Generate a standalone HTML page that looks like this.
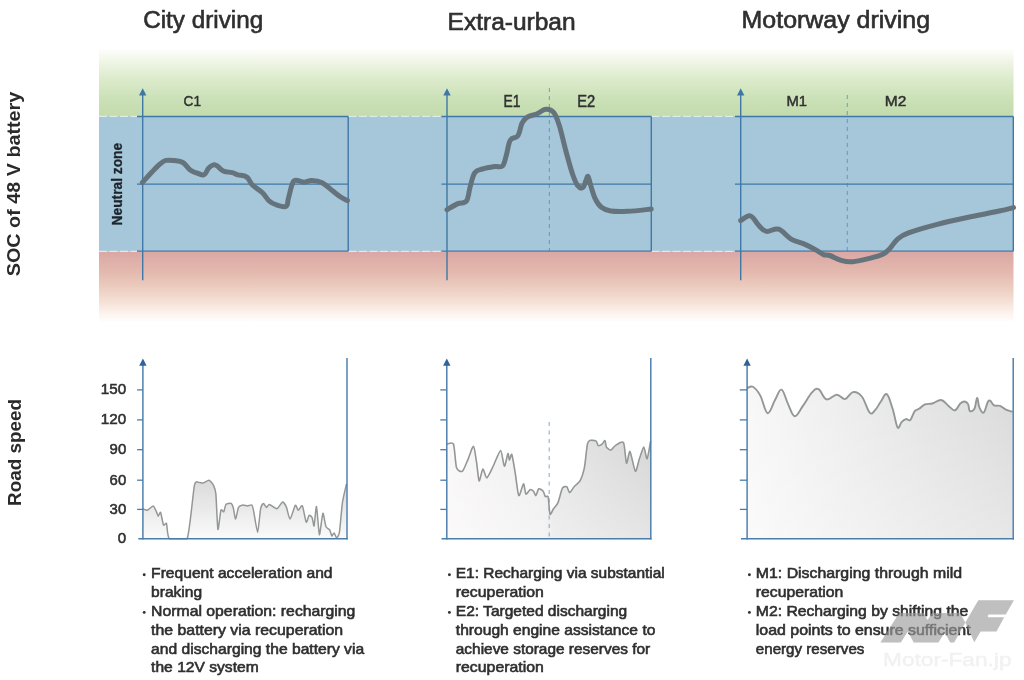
<!DOCTYPE html>
<html><head><meta charset="utf-8"><title>48V SOC driving profiles</title>
<style>
html,body{margin:0;padding:0;background:#fff;}
body{width:1024px;height:680px;overflow:hidden;position:relative;font-family:"Liberation Sans",sans-serif;}
svg text{font-family:"Liberation Sans",sans-serif;}
</style></head><body>
<svg width="1024" height="680" viewBox="0 0 1024 680" style="position:absolute;left:0;top:0;filter:blur(0.7px)">
<defs>
<linearGradient id="gG" x1="0" y1="0" x2="0" y2="1">
<stop offset="0" stop-color="#ffffff"/><stop offset="0.10" stop-color="#f7faf1"/><stop offset="0.25" stop-color="#ebf3e0"/><stop offset="0.45" stop-color="#dcebcb"/><stop offset="0.75" stop-color="#cae0b7"/><stop offset="1" stop-color="#c3dbad"/>
</linearGradient>
<linearGradient id="gR" x1="0" y1="0" x2="0" y2="1">
<stop offset="0" stop-color="#dba7a4"/><stop offset="0.3" stop-color="#e4baaf"/><stop offset="0.5" stop-color="#ecccbf"/><stop offset="0.7" stop-color="#f5e0d5"/><stop offset="0.88" stop-color="#fdf4ef"/><stop offset="1" stop-color="#ffffff"/>
</linearGradient>
<linearGradient id="gH" x1="0" y1="0" x2="1" y2="0">
<stop offset="0" stop-color="#f8f8f8"/><stop offset="1" stop-color="#dadada"/>
</linearGradient>
<linearGradient id="gE" x1="0" y1="0" x2="1" y2="0">
<stop offset="0" stop-color="#f9f7f7"/><stop offset="0.48" stop-color="#efeeee"/><stop offset="0.52" stop-color="#e6e6e6"/><stop offset="1" stop-color="#d7d7d7"/>
</linearGradient>
<linearGradient id="gC" gradientUnits="userSpaceOnUse" x1="0" y1="478" x2="0" y2="540">
<stop offset="0" stop-color="#d9d9d9"/><stop offset="1" stop-color="#fbfbfb"/>
</linearGradient>
<linearGradient id="gV" x1="0" y1="0" x2="0" y2="1">
<stop offset="0" stop-color="#ffffff" stop-opacity="0"/><stop offset="1" stop-color="#ffffff" stop-opacity="0.35"/>
</linearGradient>
</defs>
<rect x="99" y="48" width="914.5" height="69" fill="url(#gG)"/>
<rect x="99" y="116.4" width="914.5" height="135.2" fill="#a6c6da"/>
<rect x="99" y="251.6" width="914.5" height="71" fill="url(#gR)"/>
<line x1="99.0" y1="116.4" x2="137.0" y2="116.4" stroke="#dcece6" stroke-width="1.2" stroke-dasharray="8 2.5"/>
<line x1="99.0" y1="251.4" x2="137.0" y2="251.4" stroke="#dcece6" stroke-width="1.2" stroke-dasharray="8 2.5"/>
<line x1="348.5" y1="116.4" x2="441.5" y2="116.4" stroke="#dcece6" stroke-width="1.2" stroke-dasharray="8 2.5"/>
<line x1="348.5" y1="251.4" x2="441.5" y2="251.4" stroke="#dcece6" stroke-width="1.2" stroke-dasharray="8 2.5"/>
<line x1="651.5" y1="116.4" x2="735.0" y2="116.4" stroke="#dcece6" stroke-width="1.2" stroke-dasharray="8 2.5"/>
<line x1="651.5" y1="251.4" x2="735.0" y2="251.4" stroke="#dcece6" stroke-width="1.2" stroke-dasharray="8 2.5"/>
<line x1="142.7" y1="94" x2="142.7" y2="280.3" stroke="#3f78a6" stroke-width="1.4"/>
<path d="M142.7 88.2 L139.0 95.6 L146.4 95.6 Z" fill="#3f78a6"/>
<line x1="137.0" y1="116.5" x2="348.2" y2="116.5" stroke="#3f78a6" stroke-width="1.3"/>
<line x1="137.0" y1="184.2" x2="348.2" y2="184.2" stroke="#3f78a6" stroke-width="1.3"/>
<line x1="137.0" y1="251.2" x2="348.2" y2="251.2" stroke="#3f78a6" stroke-width="1.3"/>
<line x1="348.2" y1="116.5" x2="348.2" y2="251.2" stroke="#3f78a6" stroke-width="1.4"/>
<line x1="447.0" y1="94" x2="447.0" y2="280.3" stroke="#3f78a6" stroke-width="1.4"/>
<path d="M447.0 88.2 L443.3 95.6 L450.7 95.6 Z" fill="#3f78a6"/>
<line x1="441.5" y1="116.5" x2="651.3" y2="116.5" stroke="#3f78a6" stroke-width="1.3"/>
<line x1="441.5" y1="184.2" x2="651.3" y2="184.2" stroke="#3f78a6" stroke-width="1.3"/>
<line x1="441.5" y1="251.2" x2="651.3" y2="251.2" stroke="#3f78a6" stroke-width="1.3"/>
<line x1="651.3" y1="116.5" x2="651.3" y2="251.2" stroke="#3f78a6" stroke-width="1.4"/>
<line x1="740.7" y1="94" x2="740.7" y2="280.3" stroke="#3f78a6" stroke-width="1.4"/>
<path d="M740.7 88.2 L737.0 95.6 L744.4 95.6 Z" fill="#3f78a6"/>
<line x1="735.0" y1="116.5" x2="1013.3" y2="116.5" stroke="#3f78a6" stroke-width="1.3"/>
<line x1="735.0" y1="184.2" x2="1013.3" y2="184.2" stroke="#3f78a6" stroke-width="1.3"/>
<line x1="735.0" y1="251.2" x2="1013.3" y2="251.2" stroke="#3f78a6" stroke-width="1.3"/>
<line x1="1013.3" y1="116.5" x2="1013.3" y2="251.2" stroke="#3f78a6" stroke-width="1.4"/>
<line x1="549.4" y1="88" x2="549.4" y2="251" stroke="#3f7fb0" stroke-opacity="0.6" stroke-width="1.1" stroke-dasharray="4 4"/>
<line x1="847.3" y1="95" x2="847.3" y2="251" stroke="#3f7fb0" stroke-opacity="0.6" stroke-width="1.1" stroke-dasharray="4 4"/>
<path d="M142.4 182.5 C144.2 180.6 148.8 175.4 152.0 172.0 C155.2 168.6 157.5 166.1 160.0 164.0 C162.5 161.9 163.3 161.0 165.9 160.4 C168.5 159.8 170.9 160.2 174.0 160.6 C177.1 161.0 179.8 160.7 182.8 162.5 C185.8 164.3 188.0 168.4 190.6 170.3 C193.2 172.2 194.5 172.2 197.0 173.0 C199.5 173.8 202.0 175.7 204.1 174.8 C206.2 173.9 207.0 169.9 208.6 168.1 C210.2 166.3 211.6 165.5 213.0 165.0 C214.4 164.5 215.2 164.8 216.5 165.4 C217.8 166.0 218.6 167.4 220.0 168.5 C221.4 169.6 222.1 170.6 224.3 171.4 C226.5 172.2 229.7 172.0 232.2 172.6 C234.7 173.2 235.1 174.0 237.8 174.8 C240.5 175.6 244.1 175.2 246.8 177.1 C249.5 179.0 249.5 182.0 252.4 184.9 C255.3 187.8 259.4 189.8 262.5 192.8 C265.6 195.8 266.6 198.8 269.3 201.1 C272.0 203.4 274.0 204.1 277.1 205.1 C280.2 206.1 284.0 207.5 286.1 206.3 C288.2 205.1 287.2 202.7 288.4 198.4 C289.6 194.1 291.2 186.0 292.8 182.7 C294.4 179.4 295.2 180.5 297.3 180.4 C299.4 180.3 301.4 182.2 304.1 182.2 C306.8 182.2 308.6 180.3 311.9 180.4 C315.2 180.5 318.4 180.8 322.1 182.7 C325.8 184.6 328.7 187.8 332.2 190.5 C335.7 193.2 338.3 195.4 341.1 197.3 C343.9 199.2 346.2 200.0 347.4 200.6" fill="none" stroke="#65737d" stroke-width="5" stroke-linecap="round" stroke-linejoin="round"/>
<path d="M447.0 209.7 C449.0 208.6 454.2 205.2 457.8 203.6 C461.4 202.0 464.1 204.2 466.4 201.1 C468.7 198.0 468.7 191.8 470.2 186.6 C471.7 181.4 472.5 175.9 474.8 172.7 C477.1 169.5 478.8 170.1 482.5 169.0 C486.2 167.9 491.2 167.1 494.9 166.5 C498.6 165.9 500.5 168.2 502.6 165.9 C504.7 163.6 505.2 158.8 506.6 154.1 C508.0 149.4 508.2 143.6 510.3 140.2 C512.4 136.8 515.9 138.7 518.0 135.6 C520.1 132.5 520.3 126.6 522.0 123.2 C523.7 119.8 524.6 118.8 527.3 117.1 C530.0 115.4 533.2 115.4 536.6 114.0 C540.0 112.6 542.7 109.6 545.8 109.3 C548.9 109.0 551.2 109.6 553.6 112.4 C556.0 115.2 556.8 117.7 559.1 124.8 C561.4 131.9 563.5 142.2 565.9 151.0 C568.3 159.8 570.0 166.4 572.1 172.7 C574.2 179.0 575.6 182.9 577.6 185.6 C579.6 188.3 581.4 188.5 582.9 187.5 C584.4 186.5 585.0 182.4 586.0 180.4 C587.0 178.4 587.3 175.6 588.1 176.4 C588.9 177.2 589.3 180.9 590.6 185.0 C591.9 189.1 593.3 194.8 595.3 198.9 C597.3 203.0 598.6 205.1 601.4 207.3 C604.2 209.5 605.9 210.3 610.7 211.0 C615.5 211.7 620.3 211.6 627.7 211.3 C635.1 211.0 646.9 209.5 651.2 209.1" fill="none" stroke="#65737d" stroke-width="5" stroke-linecap="round" stroke-linejoin="round"/>
<path d="M740.7 220.6 C742.5 219.7 747.0 215.1 750.3 215.9 C753.6 216.7 755.7 222.4 758.6 225.2 C761.5 228.0 762.6 230.7 766.3 231.4 C770.0 232.1 774.2 227.8 778.7 229.2 C783.2 230.6 786.3 236.3 791.1 239.1 C795.9 241.9 800.5 242.4 805.0 244.4 C809.5 246.4 812.4 248.0 815.8 249.9 C819.2 251.8 821.0 253.6 823.5 254.6 C826.0 255.6 826.3 254.4 829.7 255.5 C833.1 256.6 837.8 259.6 842.0 260.7 C846.2 261.8 848.0 262.1 852.8 261.7 C857.6 261.3 862.9 259.9 868.3 258.6 C873.7 257.3 878.2 256.5 882.2 254.6 C886.2 252.7 887.1 251.2 889.9 248.4 C892.7 245.6 894.2 241.9 897.6 239.1 C901.0 236.3 901.4 235.6 908.5 232.9 C915.6 230.2 925.5 227.4 936.3 224.6 C947.1 221.8 955.9 219.9 967.2 217.5 C978.5 215.1 989.5 213.1 998.0 211.3 C1006.5 209.5 1010.7 208.3 1013.5 207.6" fill="none" stroke="#65737d" stroke-width="5" stroke-linecap="round" stroke-linejoin="round"/>
<path d="M142.9 508.8 C143.3 508.9 146.4 510.6 147.4 510.3 C148.4 510.0 152.3 505.8 153.2 505.9 C154.1 506.0 155.7 510.2 156.2 511.2 C156.7 512.2 157.8 516.1 158.2 516.2 C158.6 516.3 160.1 511.5 160.6 512.4 C161.1 513.3 162.9 523.9 163.5 525.0 C164.1 526.1 165.9 522.1 166.5 523.5 C167.1 524.9 167.3 537.3 169.4 538.8 C171.5 538.8 184.6 538.8 187.1 538.8 C189.6 533.4 193.2 490.9 194.4 485.3 C195.6 479.7 197.9 482.6 198.8 482.4 C199.7 482.2 202.2 483.1 203.2 482.9 C204.2 482.7 208.1 480.1 209.1 480.3 C210.1 480.5 212.8 483.9 213.5 485.3 C214.2 486.7 215.5 489.7 215.9 494.1 C216.3 498.5 217.4 527.8 217.9 529.4 C218.4 531.0 220.3 512.1 220.9 510.3 C221.5 508.5 223.3 512.4 223.8 511.8 C224.3 511.2 225.2 505.2 225.9 504.4 C226.6 503.6 230.4 503.1 231.2 503.5 C232.0 503.9 233.1 507.2 233.5 508.8 C233.9 510.4 235.1 519.2 235.6 519.1 C236.1 519.0 237.8 508.8 238.5 507.4 C239.2 506.0 242.0 505.1 242.9 505.0 C243.8 504.9 246.5 505.9 247.4 505.9 C248.3 505.9 251.2 504.6 251.8 505.0 C252.4 505.4 252.9 507.6 253.5 510.3 C254.1 513.0 256.9 532.5 257.6 532.4 C258.3 532.2 260.0 511.7 260.6 508.8 C261.2 505.9 262.9 503.6 263.5 503.5 C264.1 503.4 265.9 507.3 266.5 507.4 C267.1 507.5 268.4 504.3 269.4 504.4 C270.4 504.5 275.5 509.0 276.8 508.8 C278.1 508.6 281.6 502.2 282.6 502.1 C283.6 502.0 285.8 505.7 286.5 507.4 C287.2 509.1 289.1 519.3 290.0 519.1 C290.9 518.9 294.5 506.2 295.3 505.3 C296.1 504.4 297.5 510.2 298.2 510.3 C298.9 510.4 301.6 504.7 302.4 505.9 C303.2 507.1 305.5 521.2 306.2 522.1 C306.9 523.0 308.5 515.8 309.1 515.3 C309.7 514.8 311.6 516.5 312.1 517.6 C312.6 518.7 313.7 527.0 314.1 525.9 C314.5 524.8 316.0 505.6 316.5 506.5 C317.0 507.4 318.8 534.0 319.4 534.7 C320.0 535.4 322.2 514.0 322.9 513.2 C323.5 512.4 325.2 524.8 325.9 526.5 C326.6 528.2 329.1 529.1 329.7 530.0 C330.3 530.9 331.4 535.6 331.8 535.9 C332.2 536.2 333.6 532.7 334.1 532.9 C334.6 533.1 336.0 537.6 336.5 537.6 C337.0 537.6 338.8 535.9 339.4 532.4 C340.0 528.9 341.7 507.8 342.4 502.9 C343.1 498.0 346.1 485.7 346.5 483.8 L346.5 538.8 L142.9 538.8 Z" fill="url(#gC)"/>
<path d="M142.9 508.8 C143.3 508.9 146.4 510.6 147.4 510.3 C148.4 510.0 152.3 505.8 153.2 505.9 C154.1 506.0 155.7 510.2 156.2 511.2 C156.7 512.2 157.8 516.1 158.2 516.2 C158.6 516.3 160.1 511.5 160.6 512.4 C161.1 513.3 162.9 523.9 163.5 525.0 C164.1 526.1 165.9 522.1 166.5 523.5 C167.1 524.9 167.3 537.3 169.4 538.8 C171.5 538.8 184.6 538.8 187.1 538.8 C189.6 533.4 193.2 490.9 194.4 485.3 C195.6 479.7 197.9 482.6 198.8 482.4 C199.7 482.2 202.2 483.1 203.2 482.9 C204.2 482.7 208.1 480.1 209.1 480.3 C210.1 480.5 212.8 483.9 213.5 485.3 C214.2 486.7 215.5 489.7 215.9 494.1 C216.3 498.5 217.4 527.8 217.9 529.4 C218.4 531.0 220.3 512.1 220.9 510.3 C221.5 508.5 223.3 512.4 223.8 511.8 C224.3 511.2 225.2 505.2 225.9 504.4 C226.6 503.6 230.4 503.1 231.2 503.5 C232.0 503.9 233.1 507.2 233.5 508.8 C233.9 510.4 235.1 519.2 235.6 519.1 C236.1 519.0 237.8 508.8 238.5 507.4 C239.2 506.0 242.0 505.1 242.9 505.0 C243.8 504.9 246.5 505.9 247.4 505.9 C248.3 505.9 251.2 504.6 251.8 505.0 C252.4 505.4 252.9 507.6 253.5 510.3 C254.1 513.0 256.9 532.5 257.6 532.4 C258.3 532.2 260.0 511.7 260.6 508.8 C261.2 505.9 262.9 503.6 263.5 503.5 C264.1 503.4 265.9 507.3 266.5 507.4 C267.1 507.5 268.4 504.3 269.4 504.4 C270.4 504.5 275.5 509.0 276.8 508.8 C278.1 508.6 281.6 502.2 282.6 502.1 C283.6 502.0 285.8 505.7 286.5 507.4 C287.2 509.1 289.1 519.3 290.0 519.1 C290.9 518.9 294.5 506.2 295.3 505.3 C296.1 504.4 297.5 510.2 298.2 510.3 C298.9 510.4 301.6 504.7 302.4 505.9 C303.2 507.1 305.5 521.2 306.2 522.1 C306.9 523.0 308.5 515.8 309.1 515.3 C309.7 514.8 311.6 516.5 312.1 517.6 C312.6 518.7 313.7 527.0 314.1 525.9 C314.5 524.8 316.0 505.6 316.5 506.5 C317.0 507.4 318.8 534.0 319.4 534.7 C320.0 535.4 322.2 514.0 322.9 513.2 C323.5 512.4 325.2 524.8 325.9 526.5 C326.6 528.2 329.1 529.1 329.7 530.0 C330.3 530.9 331.4 535.6 331.8 535.9 C332.2 536.2 333.6 532.7 334.1 532.9 C334.6 533.1 336.0 537.6 336.5 537.6 C337.0 537.6 338.8 535.9 339.4 532.4 C340.0 528.9 341.7 507.8 342.4 502.9 C343.1 498.0 346.1 485.7 346.5 483.8" fill="none" stroke="#949797" stroke-width="1.5" stroke-linejoin="round"/>
<path d="M446.8 444.1 C447.6 444.1 452.4 441.4 453.5 444.1 C454.6 446.8 455.5 464.4 456.5 467.6 C457.5 470.8 461.0 472.2 462.4 471.2 C463.8 470.2 466.9 461.7 468.2 458.8 C469.5 455.9 472.5 445.8 473.5 446.2 C474.5 446.6 475.8 457.8 476.5 461.8 C477.2 465.8 478.4 480.0 479.1 480.9 C479.8 481.8 482.0 469.5 482.9 469.1 C483.8 468.8 485.6 478.2 486.8 477.9 C488.0 477.6 491.6 469.4 493.2 466.2 C494.8 463.0 499.3 450.6 500.6 450.6 C501.9 450.6 503.5 465.9 504.4 466.2 C505.3 466.5 507.3 454.2 507.9 453.5 C508.5 452.8 508.9 460.2 509.4 460.3 C509.9 460.4 511.1 452.9 511.8 454.4 C512.5 455.9 514.5 468.7 515.3 473.5 C516.1 478.3 517.8 494.4 518.8 495.6 C519.8 496.8 522.7 484.0 523.5 483.8 C524.3 483.6 525.1 493.4 525.9 494.1 C526.7 494.8 529.1 490.0 530.0 489.7 C530.9 489.4 532.8 490.5 533.5 491.2 C534.2 491.9 535.3 495.9 535.9 495.6 C536.5 495.3 537.9 489.3 538.8 488.8 C539.7 488.3 542.4 490.3 543.2 491.2 C544.0 492.1 544.7 495.8 545.3 496.5 C545.9 497.2 547.7 495.0 548.2 497.1 C548.7 499.2 549.4 512.7 550.0 514.1 C550.6 515.5 552.6 510.1 553.5 508.8 C554.4 507.5 556.9 505.3 557.9 502.9 C558.9 500.5 561.4 490.1 562.4 488.2 C563.4 486.3 565.9 486.3 566.8 486.8 C567.7 487.3 568.8 492.6 569.7 492.6 C570.6 492.6 572.9 488.2 574.1 486.8 C575.3 485.4 578.8 483.1 580.0 480.9 C581.2 478.7 583.5 471.9 584.4 467.6 C585.3 463.3 586.7 447.3 587.4 444.1 C588.1 440.9 589.3 440.6 590.3 440.3 C591.3 440.0 595.3 440.6 596.2 441.2 C597.1 441.8 597.5 445.3 598.2 445.6 C598.9 445.9 601.3 444.7 602.1 444.1 C602.9 443.5 604.5 440.2 605.0 440.6 C605.5 441.0 605.8 446.0 606.5 447.1 C607.2 448.2 609.9 450.2 610.9 450.0 C611.9 449.8 613.8 446.5 615.3 445.6 C616.8 444.7 622.2 440.5 623.5 442.6 C624.8 444.7 625.7 462.2 626.5 463.2 C627.3 464.2 629.0 450.6 630.0 451.5 C631.0 452.4 634.2 470.3 635.3 471.2 C636.4 472.1 638.4 461.6 639.4 458.8 C640.4 456.0 642.9 447.1 643.8 447.1 C644.7 447.1 646.3 459.5 647.1 458.8 C647.9 458.1 650.2 443.3 650.6 441.2 L650.6 538.8 L446.8 538.8 Z" fill="url(#gE)"/>
<path d="M446.8 444.1 C447.6 444.1 452.4 441.4 453.5 444.1 C454.6 446.8 455.5 464.4 456.5 467.6 C457.5 470.8 461.0 472.2 462.4 471.2 C463.8 470.2 466.9 461.7 468.2 458.8 C469.5 455.9 472.5 445.8 473.5 446.2 C474.5 446.6 475.8 457.8 476.5 461.8 C477.2 465.8 478.4 480.0 479.1 480.9 C479.8 481.8 482.0 469.5 482.9 469.1 C483.8 468.8 485.6 478.2 486.8 477.9 C488.0 477.6 491.6 469.4 493.2 466.2 C494.8 463.0 499.3 450.6 500.6 450.6 C501.9 450.6 503.5 465.9 504.4 466.2 C505.3 466.5 507.3 454.2 507.9 453.5 C508.5 452.8 508.9 460.2 509.4 460.3 C509.9 460.4 511.1 452.9 511.8 454.4 C512.5 455.9 514.5 468.7 515.3 473.5 C516.1 478.3 517.8 494.4 518.8 495.6 C519.8 496.8 522.7 484.0 523.5 483.8 C524.3 483.6 525.1 493.4 525.9 494.1 C526.7 494.8 529.1 490.0 530.0 489.7 C530.9 489.4 532.8 490.5 533.5 491.2 C534.2 491.9 535.3 495.9 535.9 495.6 C536.5 495.3 537.9 489.3 538.8 488.8 C539.7 488.3 542.4 490.3 543.2 491.2 C544.0 492.1 544.7 495.8 545.3 496.5 C545.9 497.2 547.7 495.0 548.2 497.1 C548.7 499.2 549.4 512.7 550.0 514.1 C550.6 515.5 552.6 510.1 553.5 508.8 C554.4 507.5 556.9 505.3 557.9 502.9 C558.9 500.5 561.4 490.1 562.4 488.2 C563.4 486.3 565.9 486.3 566.8 486.8 C567.7 487.3 568.8 492.6 569.7 492.6 C570.6 492.6 572.9 488.2 574.1 486.8 C575.3 485.4 578.8 483.1 580.0 480.9 C581.2 478.7 583.5 471.9 584.4 467.6 C585.3 463.3 586.7 447.3 587.4 444.1 C588.1 440.9 589.3 440.6 590.3 440.3 C591.3 440.0 595.3 440.6 596.2 441.2 C597.1 441.8 597.5 445.3 598.2 445.6 C598.9 445.9 601.3 444.7 602.1 444.1 C602.9 443.5 604.5 440.2 605.0 440.6 C605.5 441.0 605.8 446.0 606.5 447.1 C607.2 448.2 609.9 450.2 610.9 450.0 C611.9 449.8 613.8 446.5 615.3 445.6 C616.8 444.7 622.2 440.5 623.5 442.6 C624.8 444.7 625.7 462.2 626.5 463.2 C627.3 464.2 629.0 450.6 630.0 451.5 C631.0 452.4 634.2 470.3 635.3 471.2 C636.4 472.1 638.4 461.6 639.4 458.8 C640.4 456.0 642.9 447.1 643.8 447.1 C644.7 447.1 646.3 459.5 647.1 458.8 C647.9 458.1 650.2 443.3 650.6 441.2 L650.6 538.8 L446.8 538.8 Z" fill="url(#gV)"/>
<path d="M446.8 444.1 C447.6 444.1 452.4 441.4 453.5 444.1 C454.6 446.8 455.5 464.4 456.5 467.6 C457.5 470.8 461.0 472.2 462.4 471.2 C463.8 470.2 466.9 461.7 468.2 458.8 C469.5 455.9 472.5 445.8 473.5 446.2 C474.5 446.6 475.8 457.8 476.5 461.8 C477.2 465.8 478.4 480.0 479.1 480.9 C479.8 481.8 482.0 469.5 482.9 469.1 C483.8 468.8 485.6 478.2 486.8 477.9 C488.0 477.6 491.6 469.4 493.2 466.2 C494.8 463.0 499.3 450.6 500.6 450.6 C501.9 450.6 503.5 465.9 504.4 466.2 C505.3 466.5 507.3 454.2 507.9 453.5 C508.5 452.8 508.9 460.2 509.4 460.3 C509.9 460.4 511.1 452.9 511.8 454.4 C512.5 455.9 514.5 468.7 515.3 473.5 C516.1 478.3 517.8 494.4 518.8 495.6 C519.8 496.8 522.7 484.0 523.5 483.8 C524.3 483.6 525.1 493.4 525.9 494.1 C526.7 494.8 529.1 490.0 530.0 489.7 C530.9 489.4 532.8 490.5 533.5 491.2 C534.2 491.9 535.3 495.9 535.9 495.6 C536.5 495.3 537.9 489.3 538.8 488.8 C539.7 488.3 542.4 490.3 543.2 491.2 C544.0 492.1 544.7 495.8 545.3 496.5 C545.9 497.2 547.7 495.0 548.2 497.1 C548.7 499.2 549.4 512.7 550.0 514.1 C550.6 515.5 552.6 510.1 553.5 508.8 C554.4 507.5 556.9 505.3 557.9 502.9 C558.9 500.5 561.4 490.1 562.4 488.2 C563.4 486.3 565.9 486.3 566.8 486.8 C567.7 487.3 568.8 492.6 569.7 492.6 C570.6 492.6 572.9 488.2 574.1 486.8 C575.3 485.4 578.8 483.1 580.0 480.9 C581.2 478.7 583.5 471.9 584.4 467.6 C585.3 463.3 586.7 447.3 587.4 444.1 C588.1 440.9 589.3 440.6 590.3 440.3 C591.3 440.0 595.3 440.6 596.2 441.2 C597.1 441.8 597.5 445.3 598.2 445.6 C598.9 445.9 601.3 444.7 602.1 444.1 C602.9 443.5 604.5 440.2 605.0 440.6 C605.5 441.0 605.8 446.0 606.5 447.1 C607.2 448.2 609.9 450.2 610.9 450.0 C611.9 449.8 613.8 446.5 615.3 445.6 C616.8 444.7 622.2 440.5 623.5 442.6 C624.8 444.7 625.7 462.2 626.5 463.2 C627.3 464.2 629.0 450.6 630.0 451.5 C631.0 452.4 634.2 470.3 635.3 471.2 C636.4 472.1 638.4 461.6 639.4 458.8 C640.4 456.0 642.9 447.1 643.8 447.1 C644.7 447.1 646.3 459.5 647.1 458.8 C647.9 458.1 650.2 443.3 650.6 441.2" fill="none" stroke="#949797" stroke-width="1.6" stroke-linejoin="round"/>
<path d="M747.1 388.2 C748.2 387.9 750.5 385.4 752.9 386.8 C755.3 388.2 757.6 390.8 760.3 395.6 C763.0 400.4 764.9 412.4 767.6 413.2 C770.3 414.0 772.5 404.3 775.0 400.0 C777.5 395.7 779.1 388.9 781.5 389.7 C783.9 390.5 785.8 399.5 788.2 404.4 C790.6 409.3 792.0 415.9 794.7 416.2 C797.4 416.5 799.8 410.2 802.9 405.9 C806.0 401.6 808.9 395.7 811.8 392.6 C814.7 389.5 815.8 387.9 818.5 389.1 C821.2 390.3 823.1 398.4 826.5 399.4 C829.9 400.4 833.4 394.8 836.8 394.7 C840.2 394.6 842.0 399.6 845.0 399.1 C848.0 398.6 849.8 392.6 852.9 392.1 C856.0 391.6 858.7 392.7 861.8 396.5 C864.9 400.3 867.3 410.1 869.7 412.6 C872.1 415.1 872.9 412.3 875.0 410.3 C877.1 408.3 878.7 404.5 880.9 401.5 C883.1 398.5 884.7 392.8 886.8 394.1 C888.9 395.4 890.6 402.7 892.6 408.8 C894.6 414.9 896.0 425.0 897.6 427.4 C899.2 429.8 900.0 423.6 901.5 422.1 C903.0 420.6 904.3 419.5 905.9 419.1 C907.5 418.7 908.7 421.4 910.3 420.0 C911.9 418.6 913.1 413.3 914.7 411.2 C916.3 409.1 917.2 410.0 919.1 408.8 C921.0 407.6 922.6 405.4 925.0 404.4 C927.4 403.4 929.4 404.3 932.4 403.5 C935.4 402.7 938.2 399.6 941.2 400.0 C944.2 400.4 946.0 404.0 948.5 405.9 C951.0 407.8 952.8 410.7 955.0 410.3 C957.2 409.9 958.5 405.1 960.3 403.5 C962.1 401.9 963.3 401.3 964.7 401.5 C966.1 401.7 967.3 402.7 968.2 404.4 C969.1 406.1 968.6 410.1 969.7 410.9 C970.8 411.7 973.0 411.2 974.4 408.8 C975.8 406.4 976.2 398.2 977.1 397.9 C978.0 397.6 978.2 404.7 979.4 407.4 C980.6 410.1 982.1 413.6 983.8 412.4 C985.5 411.2 986.9 401.9 988.8 400.6 C990.7 399.3 992.0 404.3 994.1 405.3 C996.2 406.3 997.8 405.1 1000.0 405.9 C1002.2 406.7 1003.6 408.6 1005.9 409.7 C1008.2 410.8 1011.4 411.4 1012.6 411.8 L1012.6 538.8 L747.1 538.8 Z" fill="url(#gH)"/>
<path d="M747.1 388.2 C748.2 387.9 750.5 385.4 752.9 386.8 C755.3 388.2 757.6 390.8 760.3 395.6 C763.0 400.4 764.9 412.4 767.6 413.2 C770.3 414.0 772.5 404.3 775.0 400.0 C777.5 395.7 779.1 388.9 781.5 389.7 C783.9 390.5 785.8 399.5 788.2 404.4 C790.6 409.3 792.0 415.9 794.7 416.2 C797.4 416.5 799.8 410.2 802.9 405.9 C806.0 401.6 808.9 395.7 811.8 392.6 C814.7 389.5 815.8 387.9 818.5 389.1 C821.2 390.3 823.1 398.4 826.5 399.4 C829.9 400.4 833.4 394.8 836.8 394.7 C840.2 394.6 842.0 399.6 845.0 399.1 C848.0 398.6 849.8 392.6 852.9 392.1 C856.0 391.6 858.7 392.7 861.8 396.5 C864.9 400.3 867.3 410.1 869.7 412.6 C872.1 415.1 872.9 412.3 875.0 410.3 C877.1 408.3 878.7 404.5 880.9 401.5 C883.1 398.5 884.7 392.8 886.8 394.1 C888.9 395.4 890.6 402.7 892.6 408.8 C894.6 414.9 896.0 425.0 897.6 427.4 C899.2 429.8 900.0 423.6 901.5 422.1 C903.0 420.6 904.3 419.5 905.9 419.1 C907.5 418.7 908.7 421.4 910.3 420.0 C911.9 418.6 913.1 413.3 914.7 411.2 C916.3 409.1 917.2 410.0 919.1 408.8 C921.0 407.6 922.6 405.4 925.0 404.4 C927.4 403.4 929.4 404.3 932.4 403.5 C935.4 402.7 938.2 399.6 941.2 400.0 C944.2 400.4 946.0 404.0 948.5 405.9 C951.0 407.8 952.8 410.7 955.0 410.3 C957.2 409.9 958.5 405.1 960.3 403.5 C962.1 401.9 963.3 401.3 964.7 401.5 C966.1 401.7 967.3 402.7 968.2 404.4 C969.1 406.1 968.6 410.1 969.7 410.9 C970.8 411.7 973.0 411.2 974.4 408.8 C975.8 406.4 976.2 398.2 977.1 397.9 C978.0 397.6 978.2 404.7 979.4 407.4 C980.6 410.1 982.1 413.6 983.8 412.4 C985.5 411.2 986.9 401.9 988.8 400.6 C990.7 399.3 992.0 404.3 994.1 405.3 C996.2 406.3 997.8 405.1 1000.0 405.9 C1002.2 406.7 1003.6 408.6 1005.9 409.7 C1008.2 410.8 1011.4 411.4 1012.6 411.8 L1012.6 538.8 L747.1 538.8 Z" fill="url(#gV)"/>
<path d="M747.1 388.2 C748.2 387.9 750.5 385.4 752.9 386.8 C755.3 388.2 757.6 390.8 760.3 395.6 C763.0 400.4 764.9 412.4 767.6 413.2 C770.3 414.0 772.5 404.3 775.0 400.0 C777.5 395.7 779.1 388.9 781.5 389.7 C783.9 390.5 785.8 399.5 788.2 404.4 C790.6 409.3 792.0 415.9 794.7 416.2 C797.4 416.5 799.8 410.2 802.9 405.9 C806.0 401.6 808.9 395.7 811.8 392.6 C814.7 389.5 815.8 387.9 818.5 389.1 C821.2 390.3 823.1 398.4 826.5 399.4 C829.9 400.4 833.4 394.8 836.8 394.7 C840.2 394.6 842.0 399.6 845.0 399.1 C848.0 398.6 849.8 392.6 852.9 392.1 C856.0 391.6 858.7 392.7 861.8 396.5 C864.9 400.3 867.3 410.1 869.7 412.6 C872.1 415.1 872.9 412.3 875.0 410.3 C877.1 408.3 878.7 404.5 880.9 401.5 C883.1 398.5 884.7 392.8 886.8 394.1 C888.9 395.4 890.6 402.7 892.6 408.8 C894.6 414.9 896.0 425.0 897.6 427.4 C899.2 429.8 900.0 423.6 901.5 422.1 C903.0 420.6 904.3 419.5 905.9 419.1 C907.5 418.7 908.7 421.4 910.3 420.0 C911.9 418.6 913.1 413.3 914.7 411.2 C916.3 409.1 917.2 410.0 919.1 408.8 C921.0 407.6 922.6 405.4 925.0 404.4 C927.4 403.4 929.4 404.3 932.4 403.5 C935.4 402.7 938.2 399.6 941.2 400.0 C944.2 400.4 946.0 404.0 948.5 405.9 C951.0 407.8 952.8 410.7 955.0 410.3 C957.2 409.9 958.5 405.1 960.3 403.5 C962.1 401.9 963.3 401.3 964.7 401.5 C966.1 401.7 967.3 402.7 968.2 404.4 C969.1 406.1 968.6 410.1 969.7 410.9 C970.8 411.7 973.0 411.2 974.4 408.8 C975.8 406.4 976.2 398.2 977.1 397.9 C978.0 397.6 978.2 404.7 979.4 407.4 C980.6 410.1 982.1 413.6 983.8 412.4 C985.5 411.2 986.9 401.9 988.8 400.6 C990.7 399.3 992.0 404.3 994.1 405.3 C996.2 406.3 997.8 405.1 1000.0 405.9 C1002.2 406.7 1003.6 408.6 1005.9 409.7 C1008.2 410.8 1011.4 411.4 1012.6 411.8" fill="none" stroke="#949797" stroke-width="1.9" stroke-linejoin="round"/>
<line x1="549.2" y1="422" x2="549.2" y2="538" stroke="#6c9ecb" stroke-opacity="0.8" stroke-width="1.1" stroke-dasharray="4 4.5"/>
<line x1="142.9" y1="364" x2="142.9" y2="539.5" stroke="#4a7cac" stroke-width="1.45"/>
<path d="M142.9 358.4 L139.2 365.8 L146.6 365.8 Z" fill="#2e639b"/>
<line x1="138.3" y1="538.8" x2="347.7" y2="538.8" stroke="#4a7cac" stroke-width="1.6"/>
<line x1="347.0" y1="358" x2="347.0" y2="539.5" stroke="#4a7cac" stroke-width="1.45"/>
<line x1="137.1" y1="389.9" x2="142.9" y2="389.9" stroke="#4a7cac" stroke-width="1.3"/>
<line x1="137.1" y1="419.9" x2="142.9" y2="419.9" stroke="#4a7cac" stroke-width="1.3"/>
<line x1="137.1" y1="449.7" x2="142.9" y2="449.7" stroke="#4a7cac" stroke-width="1.3"/>
<line x1="137.1" y1="480.2" x2="142.9" y2="480.2" stroke="#4a7cac" stroke-width="1.3"/>
<line x1="137.1" y1="509.4" x2="142.9" y2="509.4" stroke="#4a7cac" stroke-width="1.3"/>
<line x1="446.8" y1="364" x2="446.8" y2="539.5" stroke="#4a7cac" stroke-width="1.45"/>
<path d="M446.8 358.4 L443.1 365.8 L450.5 365.8 Z" fill="#2e639b"/>
<line x1="441.5" y1="538.8" x2="651.5" y2="538.8" stroke="#4a7cac" stroke-width="1.6"/>
<line x1="650.8" y1="358" x2="650.8" y2="539.5" stroke="#4a7cac" stroke-width="1.45"/>
<line x1="440.3" y1="389.9" x2="446.8" y2="389.9" stroke="#4a7cac" stroke-width="1.3"/>
<line x1="440.3" y1="419.9" x2="446.8" y2="419.9" stroke="#4a7cac" stroke-width="1.3"/>
<line x1="440.3" y1="449.7" x2="446.8" y2="449.7" stroke="#4a7cac" stroke-width="1.3"/>
<line x1="440.3" y1="480.2" x2="446.8" y2="480.2" stroke="#4a7cac" stroke-width="1.3"/>
<line x1="440.3" y1="509.4" x2="446.8" y2="509.4" stroke="#4a7cac" stroke-width="1.3"/>
<line x1="747.1" y1="364" x2="747.1" y2="539.5" stroke="#4a7cac" stroke-width="1.45"/>
<path d="M747.1 358.4 L743.4 365.8 L750.8 365.8 Z" fill="#2e639b"/>
<line x1="741.0" y1="538.8" x2="1013.9" y2="538.8" stroke="#4a7cac" stroke-width="1.6"/>
<line x1="1013.2" y1="358" x2="1013.2" y2="539.5" stroke="#4a7cac" stroke-width="1.45"/>
<line x1="739.8" y1="389.9" x2="747.1" y2="389.9" stroke="#4a7cac" stroke-width="1.3"/>
<line x1="739.8" y1="419.9" x2="747.1" y2="419.9" stroke="#4a7cac" stroke-width="1.3"/>
<line x1="739.8" y1="449.7" x2="747.1" y2="449.7" stroke="#4a7cac" stroke-width="1.3"/>
<line x1="739.8" y1="480.2" x2="747.1" y2="480.2" stroke="#4a7cac" stroke-width="1.3"/>
<line x1="739.8" y1="509.4" x2="747.1" y2="509.4" stroke="#4a7cac" stroke-width="1.3"/>
<text x="143.2" y="28.4" font-size="23.0" font-weight="normal" text-anchor="start" fill="#2f2f2f" textLength="120.0" lengthAdjust="spacingAndGlyphs" stroke="#2f2f2f" stroke-width="0.6">City driving</text>
<text x="447.6" y="30.2" font-size="23.0" font-weight="normal" text-anchor="start" fill="#2f2f2f" textLength="128.0" lengthAdjust="spacingAndGlyphs" stroke="#2f2f2f" stroke-width="0.6">Extra-urban</text>
<text x="741.6" y="28.0" font-size="23.0" font-weight="normal" text-anchor="start" fill="#2f2f2f" textLength="188.5" lengthAdjust="spacingAndGlyphs" stroke="#2f2f2f" stroke-width="0.6">Motorway driving</text>
<text x="183.6" y="106.4" font-size="15.4" font-weight="normal" text-anchor="start" fill="#2f2f2f" textLength="17.4" lengthAdjust="spacingAndGlyphs" stroke="#333" stroke-width="0.5">C1</text>
<text x="503.4" y="107.2" font-size="15.6" font-weight="normal" text-anchor="start" fill="#2f2f2f" textLength="17.0" lengthAdjust="spacingAndGlyphs" stroke="#333" stroke-width="0.5">E1</text>
<text x="577.2" y="107.2" font-size="15.6" font-weight="normal" text-anchor="start" fill="#2f2f2f" textLength="18.0" lengthAdjust="spacingAndGlyphs" stroke="#333" stroke-width="0.5">E2</text>
<text x="786.4" y="106.2" font-size="15.4" font-weight="normal" text-anchor="start" fill="#2f2f2f" textLength="20.6" lengthAdjust="spacingAndGlyphs" stroke="#333" stroke-width="0.5">M1</text>
<text x="884.8" y="106.2" font-size="15.4" font-weight="normal" text-anchor="start" fill="#2f2f2f" textLength="21.6" lengthAdjust="spacingAndGlyphs" stroke="#333" stroke-width="0.5">M2</text>
<g transform="translate(20.2,276.2) rotate(-90)"><text x="0.0" y="0.0" font-size="17.5" font-weight="bold" text-anchor="start" fill="#2a2a2a" textLength="184.5" lengthAdjust="spacingAndGlyphs">SOC of 48 V battery</text></g>
<g transform="translate(122.3,225.4) rotate(-90)"><text x="0.0" y="0.0" font-size="14.6" font-weight="bold" text-anchor="start" fill="#1c252d" textLength="82.5" lengthAdjust="spacingAndGlyphs" stroke="#1c252d" stroke-width="0.3">Neutral zone</text></g>
<g transform="translate(21.3,506) rotate(-90)"><text x="0.0" y="0.0" font-size="17.5" font-weight="bold" text-anchor="start" fill="#2a2a2a" textLength="107.0" lengthAdjust="spacingAndGlyphs">Road speed</text></g>
<text x="100.8" y="394.3" font-size="14.8" font-weight="normal" text-anchor="start" fill="#2f2f2f" textLength="25.4" lengthAdjust="spacingAndGlyphs" stroke="#2f2f2f" stroke-width="0.55">150</text>
<text x="100.8" y="424.3" font-size="14.8" font-weight="normal" text-anchor="start" fill="#2f2f2f" textLength="25.4" lengthAdjust="spacingAndGlyphs" stroke="#2f2f2f" stroke-width="0.55">120</text>
<text x="109.6" y="454.1" font-size="14.8" font-weight="normal" text-anchor="start" fill="#2f2f2f" textLength="16.6" lengthAdjust="spacingAndGlyphs" stroke="#2f2f2f" stroke-width="0.55">90</text>
<text x="109.6" y="484.6" font-size="14.8" font-weight="normal" text-anchor="start" fill="#2f2f2f" textLength="16.6" lengthAdjust="spacingAndGlyphs" stroke="#2f2f2f" stroke-width="0.55">60</text>
<text x="109.6" y="513.8" font-size="14.8" font-weight="normal" text-anchor="start" fill="#2f2f2f" textLength="16.6" lengthAdjust="spacingAndGlyphs" stroke="#2f2f2f" stroke-width="0.55">30</text>
<text x="117.8" y="543.2" font-size="14.8" font-weight="normal" text-anchor="start" fill="#2f2f2f" textLength="8.4" lengthAdjust="spacingAndGlyphs" stroke="#2f2f2f" stroke-width="0.55">0</text>
<circle cx="144.2" cy="574.8" r="1.45" fill="#2f2f2f"/>
<text x="151.1" y="578.3" font-size="14.8" font-weight="normal" text-anchor="start" fill="#2f2f2f" textLength="181.4" lengthAdjust="spacingAndGlyphs" stroke="#2f2f2f" stroke-width="0.6">Frequent acceleration and</text>
<text x="151.1" y="597.1" font-size="14.8" font-weight="normal" text-anchor="start" fill="#2f2f2f" textLength="51.0" lengthAdjust="spacingAndGlyphs" stroke="#2f2f2f" stroke-width="0.6">braking</text>
<circle cx="144.2" cy="612.4" r="1.45" fill="#2f2f2f"/>
<text x="151.1" y="615.9" font-size="14.8" font-weight="normal" text-anchor="start" fill="#2f2f2f" textLength="204.3" lengthAdjust="spacingAndGlyphs" stroke="#2f2f2f" stroke-width="0.6">Normal operation: recharging</text>
<text x="151.1" y="634.8" font-size="14.8" font-weight="normal" text-anchor="start" fill="#2f2f2f" textLength="192.0" lengthAdjust="spacingAndGlyphs" stroke="#2f2f2f" stroke-width="0.6">the battery via recuperation</text>
<text x="151.1" y="653.6" font-size="14.8" font-weight="normal" text-anchor="start" fill="#2f2f2f" textLength="213.0" lengthAdjust="spacingAndGlyphs" stroke="#2f2f2f" stroke-width="0.6">and discharging the battery via</text>
<text x="151.1" y="672.4" font-size="14.8" font-weight="normal" text-anchor="start" fill="#2f2f2f" textLength="107.6" lengthAdjust="spacingAndGlyphs" stroke="#2f2f2f" stroke-width="0.6">the 12V system</text>
<circle cx="449.4" cy="574.8" r="1.45" fill="#2f2f2f"/>
<text x="455.8" y="578.3" font-size="14.8" font-weight="normal" text-anchor="start" fill="#2f2f2f" textLength="209.0" lengthAdjust="spacingAndGlyphs" stroke="#2f2f2f" stroke-width="0.6">E1: Recharging via substantial</text>
<text x="455.8" y="597.1" font-size="14.8" font-weight="normal" text-anchor="start" fill="#2f2f2f" textLength="88.0" lengthAdjust="spacingAndGlyphs" stroke="#2f2f2f" stroke-width="0.6">recuperation</text>
<circle cx="449.4" cy="612.4" r="1.45" fill="#2f2f2f"/>
<text x="455.8" y="615.9" font-size="14.8" font-weight="normal" text-anchor="start" fill="#2f2f2f" textLength="171.4" lengthAdjust="spacingAndGlyphs" stroke="#2f2f2f" stroke-width="0.6">E2: Targeted discharging</text>
<text x="455.8" y="634.8" font-size="14.8" font-weight="normal" text-anchor="start" fill="#2f2f2f" textLength="199.6" lengthAdjust="spacingAndGlyphs" stroke="#2f2f2f" stroke-width="0.6">through engine assistance to</text>
<text x="455.8" y="653.6" font-size="14.8" font-weight="normal" text-anchor="start" fill="#2f2f2f" textLength="194.4" lengthAdjust="spacingAndGlyphs" stroke="#2f2f2f" stroke-width="0.6">achieve storage reserves for</text>
<text x="455.8" y="672.4" font-size="14.8" font-weight="normal" text-anchor="start" fill="#2f2f2f" textLength="88.0" lengthAdjust="spacingAndGlyphs" stroke="#2f2f2f" stroke-width="0.6">recuperation</text>
<circle cx="749.4" cy="574.8" r="1.45" fill="#2f2f2f"/>
<text x="755.8" y="578.3" font-size="14.8" font-weight="normal" text-anchor="start" fill="#2f2f2f" textLength="206.2" lengthAdjust="spacingAndGlyphs" stroke="#2f2f2f" stroke-width="0.6">M1: Discharging through mild</text>
<text x="755.8" y="597.1" font-size="14.8" font-weight="normal" text-anchor="start" fill="#2f2f2f" textLength="87.6" lengthAdjust="spacingAndGlyphs" stroke="#2f2f2f" stroke-width="0.6">recuperation</text>
<circle cx="749.4" cy="612.4" r="1.45" fill="#2f2f2f"/>
<text x="755.8" y="615.9" font-size="14.8" font-weight="normal" text-anchor="start" fill="#2f2f2f" textLength="212.5" lengthAdjust="spacingAndGlyphs" stroke="#2f2f2f" stroke-width="0.6">M2: Recharging by shifting the</text>
<text x="755.8" y="634.8" font-size="14.8" font-weight="normal" text-anchor="start" fill="#2f2f2f" textLength="214.8" lengthAdjust="spacingAndGlyphs" stroke="#2f2f2f" stroke-width="0.6">load points to ensure sufficient</text>
<text x="755.8" y="653.6" font-size="14.8" font-weight="normal" text-anchor="start" fill="#2f2f2f" textLength="108.6" lengthAdjust="spacingAndGlyphs" stroke="#2f2f2f" stroke-width="0.6">energy reserves</text>
<g fill="#9c9c9c" opacity="0.64"><polygon points="880.4,642.6 899.2,613.1 923.9,613.1 927.6,620.0 932.0,613.1 960.0,613.1 965.3,622.6 954.2,642.6 950.2,642.6 944.8,632.6 938.4,642.6 913.7,642.6 907.8,631.6 900.8,642.6"/><polygon points="978.3,600.3 1013.9,600.3 1005.8,614.4 988.8,614.4 987.8,615.8 988.0,617.2 1004.2,617.2 996.5,631.4 980.7,631.4 974.3,642.2 965.3,622.6"/></g>
<text x="883.0" y="666.0" font-size="18.0" font-weight="normal" text-anchor="start" fill="#f1f1f1" textLength="128.5" lengthAdjust="spacingAndGlyphs" stroke="#f1f1f1" stroke-width="0.4">Motor-Fan.jp</text>
</svg>
</body></html>
